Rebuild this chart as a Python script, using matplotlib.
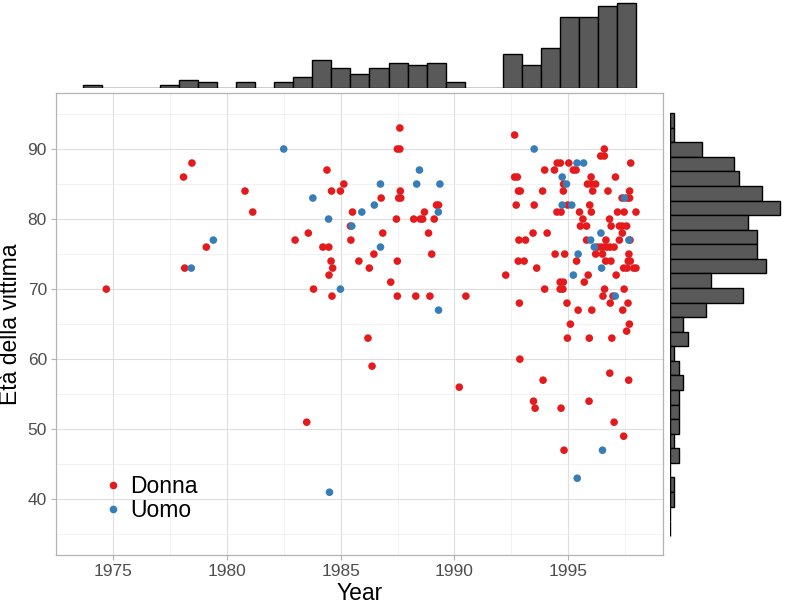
import matplotlib
matplotlib.use("Agg")
import matplotlib.pyplot as plt
from matplotlib.lines import Line2D
import numpy as np

plt.rcParams['font.family'] = ['Liberation Sans', 'DejaVu Sans']

# ---------------- data ----------------
donna_year = [1974.71, 1978.10, 1978.47, 1980.80, 1981.14, 1979.10, 1978.15, 1983.00, 1983.58,
              1984.40, 1985.14, 1984.60, 1984.99, 1985.52, 1985.43, 1984.22, 1984.48, 1985.45,
              1984.58, 1984.65, 1984.49, 1983.81, 1984.62, 1985.80, 1986.26, 1986.46, 1986.85,
              1986.78, 1987.20, 1987.49, 1987.45, 1987.60, 1987.49, 1987.60, 1987.62, 1987.55,
              1987.64, 1987.49, 1988.30, 1988.92, 1990.50, 1988.21, 1988.50, 1988.60, 1989.11,
              1988.68, 1988.86, 1989.00, 1989.21, 1989.30, 1986.20, 1986.38, 1990.21, 1983.51,
              1992.64, 1996.58, 1996.42, 1996.58, 1994.51, 1994.65, 1995.02, 1997.74, 1993.96,
              1994.39, 1995.22, 1995.34, 1992.64, 1992.76, 1996.00, 1997.07, 1994.79, 1995.84,
              1996.01, 1996.20, 1992.81, 1992.89, 1993.87, 1994.78, 1996.07, 1996.74, 1997.69,
              1997.36, 1997.58, 1997.69, 1992.71, 1993.50, 1994.97, 1995.94, 1994.50, 1994.68,
              1995.49, 1996.01, 1997.16, 1997.45, 1997.97, 1995.64, 1996.81, 1995.53, 1995.80,
              1996.88, 1997.24, 1997.37, 1997.56, 1997.37, 1993.45, 1994.07, 1992.83, 1993.12,
              1995.80, 1996.65, 1997.24, 1997.71, 1996.27, 1996.41, 1996.55, 1996.70, 1996.84,
              1997.01, 1994.42, 1994.84, 1996.20, 1996.50, 1997.66, 1992.80, 1993.06, 1995.36,
              1996.64, 1996.87, 1997.63, 1997.72, 1993.61, 1997.43, 1997.58, 1997.87, 1997.97,
              1992.25, 1995.87, 1997.10, 1994.64, 1994.78, 1995.70, 1993.96, 1994.64, 1994.76,
              1996.59, 1997.45, 1996.52, 1996.96, 1992.85, 1994.94, 1996.84, 1997.62, 1995.43,
              1996.03, 1997.39, 1995.09, 1997.68, 1997.56, 1994.96, 1995.92, 1996.91, 1992.87,
              1996.82, 1993.89, 1997.65, 1993.47, 1993.54, 1994.68, 1995.91, 1997.01, 1997.43,
              1994.81]
donna_age = [70, 86, 88, 84, 81, 76, 73, 77, 78,
             87, 85, 84, 84, 81, 79, 76, 76, 77,
             74, 73, 72, 70, 69, 74, 73, 75, 78,
             83, 71, 74, 80, 93, 90, 90, 84, 83,
             83, 69, 69, 69, 69, 80, 80, 80, 80,
             81, 78, 75, 82, 82, 63, 59, 56, 51,
             92, 90, 89, 89, 88, 88, 88, 88, 87,
             87, 87, 87, 86, 86, 86, 86, 85, 85,
             85, 85, 84, 84, 84, 84, 84, 84, 84,
             83, 83, 83, 82, 82, 82, 82, 81, 81,
             81, 81, 81, 81, 81, 80, 80, 79, 79,
             79, 79, 79, 79, 78, 78, 78, 77, 77,
             77, 77, 77, 77, 76, 76, 76, 76, 76,
             76, 75, 75, 75, 75, 75, 74, 74, 74,
             74, 74, 74, 74, 73, 73, 73, 73, 73,
             72, 72, 72, 71, 71, 71, 70, 70, 70,
             70, 70, 69, 69, 68, 68, 68, 68, 67,
             67, 67, 65, 65, 64, 63, 63, 63, 60,
             58, 57, 57, 54, 53, 53, 54, 51, 49,
             47]

uomo_year = [1982.50, 1979.41, 1978.44, 1983.78, 1984.47, 1985.93, 1985.49, 1984.99, 1986.75,
             1986.48, 1986.75, 1989.30, 1989.29, 1988.46, 1988.34, 1989.36, 1984.51, 1993.50,
             1995.38, 1995.67, 1994.73, 1994.92, 1997.46, 1994.73, 1995.15, 1995.98, 1996.43,
             1997.66, 1996.14, 1995.43, 1996.46, 1995.22, 1997.06, 1996.50, 1995.39]
uomo_age = [90, 77, 73, 83, 80, 81, 79, 70, 76,
            82, 85, 67, 81, 87, 85, 85, 41, 90,
            88, 88, 86, 85, 83, 82, 82, 77, 78,
            77, 76, 75, 73, 72, 69, 47, 43]

# marginal histogram counts
year_bin_start = 1973.99
year_bin_width = 0.828
year_counts = [1, 0, 0, 0, 1, 3, 2, 0, 2, 0, 2, 4, 10, 7, 5, 7, 9, 8, 9, 2,
               0, 0, 12, 8, 14, 25, 25, 29, 30]

age_bin_top = 95.12
age_bin_width = 2.08
age_counts = [1, 1, 7, 14, 15, 20, 24, 17, 19, 19, 21, 9, 16, 8, 3, 4, 1, 2, 3, 2,
              2, 2, 1, 2, 0, 1, 1, 0, 0]

legend_labels = ["Donna", "Uomo"]
colors = ["#E41A1C", "#377EB8"]

# ---------------- layout ----------------
W, H = 785, 604
fig = plt.figure(figsize=(W / 100, H / 100), dpi=100)

def rect(x0, y0, x1, y1):
    return [x0 / W, 1 - y1 / H, (x1 - x0) / W, (y1 - y0) / H]

pl, pr, pt, pb = 56, 663.3, 92.7, 555
xlim = (1972.80, 1999.17)
ylim = (32.04, 98.04)

ax = fig.add_axes(rect(pl, pt, pr, pb))
ax.set_xlim(*xlim)
ax.set_ylim(*ylim)
ax.set_facecolor('white')
for s in ax.spines.values():
    s.set_color('#b3b3b3')
    s.set_linewidth(0.9)
ax.set_xticks([1975, 1980, 1985, 1990, 1995])
ax.set_xticks([1972.5, 1977.5, 1982.5, 1987.5, 1992.5, 1997.5], minor=True)
ax.set_yticks([40, 50, 60, 70, 80, 90])
ax.set_yticks([35, 45, 55, 65, 75, 85, 95], minor=True)
ax.grid(which='major', color='#dedede', linewidth=0.8)
ax.grid(which='minor', color='#ececec', linewidth=0.5)
ax.set_axisbelow(True)
ax.tick_params(which='major', length=3.5, width=0.8, color='#b3b3b3',
               labelsize=12.5, labelcolor='#4d4d4d', pad=3)
ax.tick_params(which='minor', length=0)

ax.scatter(donna_year, donna_age, s=30, color=colors[0], edgecolors='none', zorder=3)
ax.scatter(uomo_year, uomo_age, s=30, color=colors[1], edgecolors='none', zorder=3)

ax.set_xlabel("Year", fontsize=16.5, labelpad=2)
ax.set_ylabel("Età della vittima", fontsize=16.5, labelpad=4)

handles = [Line2D([], [], marker='o', linestyle='none', markersize=5.5,
                  markerfacecolor=c, markeredgecolor='none') for c in colors]
leg = ax.legend(handles, legend_labels, loc='lower left',
                bbox_to_anchor=((104 - pl) / (pr - pl), (pb - 522) / (pb - pt)),
                frameon=False, fontsize=16.5, handletextpad=0.35, labelspacing=0.05,
                borderaxespad=0, borderpad=0, handlelength=0.8)

# top histogram
axt = fig.add_axes(rect(pl, 0, pr, 88))
axt.set_xlim(*xlim)
axt.set_ylim(0, 31.06)
edges_x = year_bin_start + year_bin_width * np.arange(len(year_counts))
axt.bar(edges_x, year_counts, width=year_bin_width, align='edge',
        color='#595959', edgecolor='black', linewidth=1.0)
axt.axis('off')

# right histogram
axr = fig.add_axes(rect(669.7, pt, W, pb))
axr.set_ylim(*ylim)
axr.set_xlim(0, 25.09)
edges_y = age_bin_top - age_bin_width * np.arange(1, len(age_counts) + 1)
axr.barh(edges_y, age_counts, height=age_bin_width, align='edge',
         color='#595959', edgecolor='black', linewidth=1.0)
axr.axis('off')

fig.savefig("out.png", dpi=100)
